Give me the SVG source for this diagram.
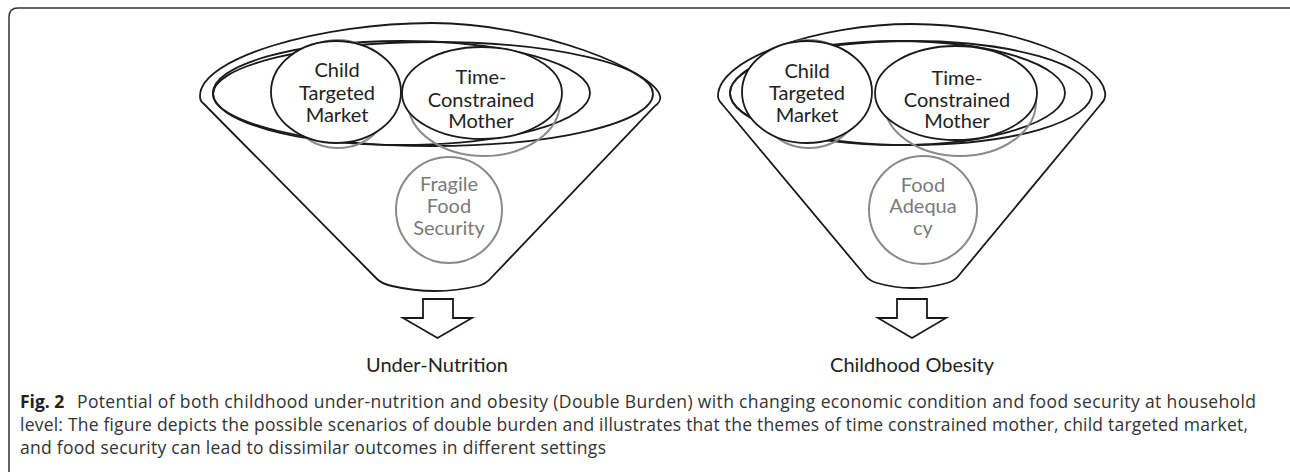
<svg xmlns="http://www.w3.org/2000/svg" width="1290" height="472" viewBox="0 0 1290 472">
<style>
.blk{fill:none;stroke:#1a1a1a;stroke-width:1.8}
.node{fill:#fff;stroke:#1a1a1a;stroke-width:1.8}
.gry{fill:none;stroke:#8a8a8a;stroke-width:2}
.lbl{font-family:Lato,"Open Sans",sans-serif;font-size:20px;fill:#222;text-anchor:middle}
.glbl{font-family:Lato,"Open Sans",sans-serif;font-size:20px;fill:#7a7a7a;text-anchor:middle}
.out{font-family:Lato,"Open Sans",sans-serif;font-size:20px;fill:#222;text-anchor:middle}
.cap{font-family:"Open Sans","Noto Sans",sans-serif;font-size:17.5px;fill:#333}
.capb{font-family:"Open Sans","Noto Sans",sans-serif;font-size:17.5px;font-weight:bold;fill:#222}
.arr{fill:#fff;stroke:#1a1a1a;stroke-width:1.8;stroke-linejoin:miter}
</style>
<rect width="1290" height="472" fill="#fff"/>
<path id="frame" d="M9,472 V17 Q9,8 18,8 H1290" fill="none" stroke="#333" stroke-width="1.5"/>

<g id="funnel-left">
<path class="blk" d="M200,96 C200,58 320,23 432,23 C540,23 655,72 660,96 C661,100 658,104 655,106 L491,278 Q486,284 478,286 Q435,296 392,286 Q382,284 377,279 L203,103 C200,101 200,98 200,96 Z"/>
<ellipse class="blk" cx="433" cy="94" rx="220" ry="52"/>
<ellipse class="blk" cx="401.5" cy="93" rx="188.5" ry="52"/>
</g>
<g id="node-child-left">
<circle class="gry" cx="338" cy="94" r="54"/>
<ellipse class="node" cx="336" cy="92" rx="65" ry="51"/>
<text class="lbl" x="337" y="77">Child</text>
<text class="lbl" x="337" y="100">Targeted</text>
<text class="lbl" x="337" y="122">Market</text>
</g>
<g id="node-mother-left">
<ellipse class="gry" cx="484" cy="102" rx="76" ry="54"/>
<ellipse class="node" cx="482" cy="93" rx="80" ry="46"/>
<text class="lbl" x="481" y="84">Time-</text>
<text class="lbl" x="481" y="107">Constrained</text>
<text class="lbl" x="481" y="128">Mother</text>
</g>
<g id="node-fragile">
<circle class="gry" cx="449" cy="210" r="53"/>
<text class="glbl" x="449" y="191">Fragile</text>
<text class="glbl" x="449" y="213">Food</text>
<text class="glbl" x="449" y="235">Security</text>
</g>

<g id="funnel-right">
<path class="blk" d="M718,96 C718,58 820,24 912,24 C1010,24 1100,60 1105,92 C1106,97 1104,101 1101,104 L960,274 Q955,281 947,283 Q912,293 877,283 Q869,281 864,274 L722,104 C719,101 718,99 718,96 Z"/>
<ellipse class="blk" cx="911" cy="93" rx="181" ry="52"/>
<ellipse class="blk" cx="897.5" cy="93" rx="167.5" ry="52"/>
</g>
<g id="node-child-right">
<circle class="gry" cx="809" cy="94" r="54"/>
<ellipse class="node" cx="807" cy="92" rx="65" ry="51"/>
<text class="lbl" x="807" y="78">Child</text>
<text class="lbl" x="807" y="100">Targeted</text>
<text class="lbl" x="807" y="122">Market</text>
</g>
<g id="node-mother-right">
<ellipse class="gry" cx="960" cy="102" rx="76" ry="54"/>
<ellipse class="node" cx="956" cy="93" rx="81" ry="47"/>
<text class="lbl" x="957" y="85">Time-</text>
<text class="lbl" x="957" y="107">Constrained</text>
<text class="lbl" x="957" y="128">Mother</text>
</g>
<g id="node-adequacy">
<circle class="gry" cx="923" cy="210" r="54"/>
<text class="glbl" x="923" y="192">Food</text>
<text class="glbl" x="923" y="213">Adequa</text>
<text class="glbl" x="923" y="235">cy</text>
</g>

<g id="connectors">
<path class="arr" d="M423,299 H453 V318 H472 L437.5,338 L403,318 H423 Z"/>
<path class="arr" d="M897,299 H927 V318 H946 L912,338 L878,318 H897 Z"/>
</g>
<g id="outcomes">
<text class="out" x="437" y="372">Under-Nutrition</text>
<text class="out" x="912" y="372">Childhood Obesity</text>
</g>
<g id="caption">
<text class="capb" x="20" y="408">Fig. 2</text>
<text class="cap" x="77" y="408" textLength="1179" lengthAdjust="spacing">Potential of both childhood under-nutrition and obesity (Double Burden) with changing economic condition and food security at household</text>
<text class="cap" x="20" y="431" textLength="1228" lengthAdjust="spacing">level: The figure depicts the possible scenarios of double burden and illustrates that the themes of time constrained mother, child targeted market,</text>
<text class="cap" x="20" y="454" textLength="586" lengthAdjust="spacing">and food security can lead to dissimilar outcomes in different settings</text>
</g>
</svg>
